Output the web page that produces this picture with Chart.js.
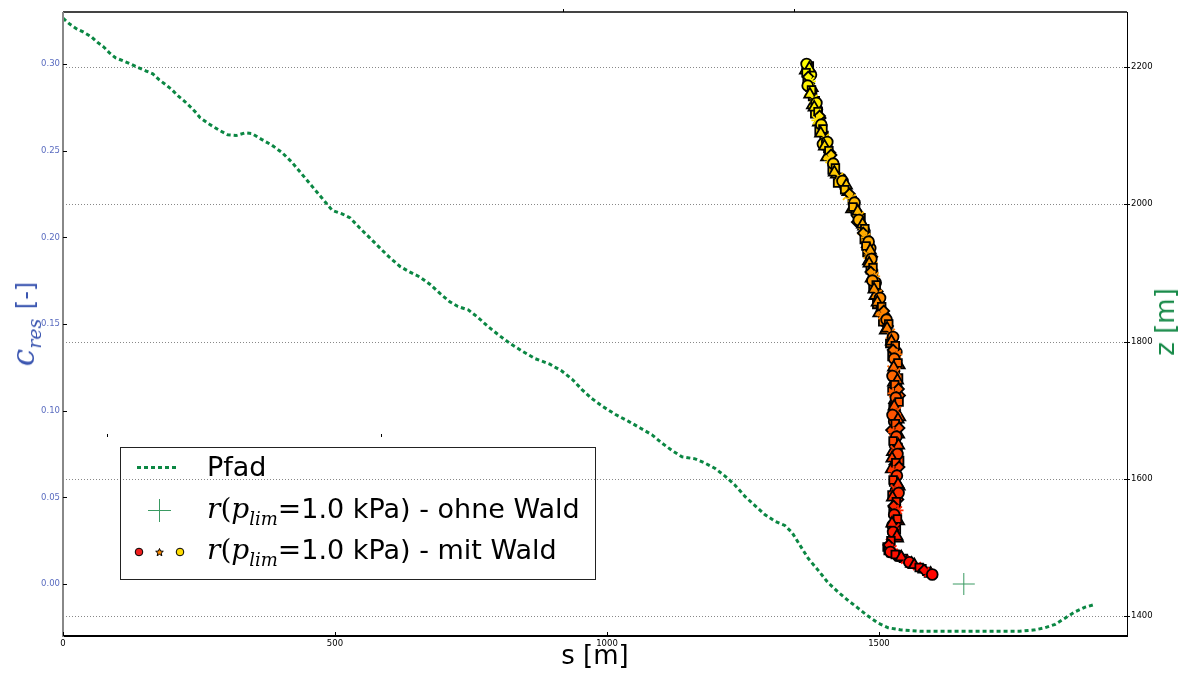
<!DOCTYPE html>
<html>
<head>
<meta charset="utf-8">
<script src="https://cdn.jsdelivr.net/npm/chart.js@4/dist/chart.umd.min.js"></script>
<style>
  html, body { margin: 0; padding: 0; background: #fff; }
  #wrap { position: relative; width: 1183px; height: 675px; overflow: hidden; font-family: "DejaVu Sans", sans-serif; }
  #c { position: absolute; left: 0; top: 0; }
  .lbl { position: absolute; white-space: nowrap; font-family: "DejaVu Sans", sans-serif; }
  .m { font-family: "DejaVu Serif", serif; }
  .mi { font-family: "DejaVu Serif", serif; font-style: italic; }
  #legend { position: absolute; left: 120px; top: 447px; width: 476px; height: 133px;
            border: 1px solid #222; box-sizing: border-box; }
  .row { position: absolute; left: 86px; font-size: 27px; color: #000; line-height: 30px; white-space: nowrap;
         font-family: "DejaVu Sans", sans-serif; }
  .row .mi, .row .m { font-size: 28px; }
  .row .sb { font-size: 18px; position: relative; top: 7px; }
  #xtitle { left: 0; width: 1190px; text-align: center; top: 640px; font-size: 26px; color: #000; }
  #ztitle { left: 1165px; top: 322px; font-size: 26px; color: #178a48;
            transform: translate(-50%, -50%) rotate(-90deg); }
  #ctitle { left: 23px; top: 324px; font-size: 24px; color: #3a55b0;
            transform: translate(-50%, -50%) rotate(-90deg); }
  #ctitle .mi { font-size: 31px; }
  #ctitle .sb { font-size: 19px; position: relative; top: 7px; margin-right: 2px; }
</style>
</head>
<body>
<div id="wrap">
  <canvas id="c" width="1183" height="675"></canvas>
  <div id="legend">
    <div class="row" style="top:4px">Pfad</div>
    <div class="row" style="top:46px"><span class="mi">r</span><span class="m">(</span><span class="mi">p</span><span class="mi sb">lim</span><span class="m">=</span>1.0 kPa) - ohne Wald</div>
    <div class="row" style="top:87px"><span class="mi">r</span><span class="m">(</span><span class="mi">p</span><span class="mi sb">lim</span><span class="m">=</span>1.0 kPa) - mit Wald</div>
  </div>
  <div class="lbl" id="xtitle">s [m]</div>
  <div class="lbl" id="ztitle">z [m]</div>
  <div class="lbl" id="ctitle"><span class="mi">c</span><span class="mi sb">res</span> [-]</div>
</div>
<script>
// Longitudinal profile of the path: distance along path s [m] and elevation z [m]
const pathS = [0, 13, 26, 37, 52, 63, 75, 86, 97, 110, 125, 138, 153, 165, 177, 189, 200, 211, 222, 234, 245, 252,
  270, 289, 303, 318, 335, 347, 366, 384, 403, 421, 439, 458, 476, 495, 513, 528, 546, 564, 583, 601, 620, 638,
  656, 675, 693, 711, 726, 745, 763, 781, 800, 822, 844, 868, 895, 917, 936, 954, 972, 991, 1015, 1039, 1061,
  1083, 1101, 1120, 1138, 1162, 1180, 1199, 1217, 1235, 1254, 1272, 1290, 1309, 1327, 1340, 1355, 1370, 1388,
  1406, 1425, 1443, 1461, 1480, 1498, 1517, 1539, 1575, 1612, 1649, 1686, 1722, 1759, 1787, 1805, 1824, 1842,
  1860, 1879, 1897];
const pathZ = [2271, 2262, 2255, 2251, 2244, 2236, 2229, 2220, 2213, 2209, 2204, 2199, 2194, 2190, 2181, 2174, 2167,
  2158, 2151, 2142, 2133, 2126, 2116, 2107, 2101, 2100, 2104, 2103, 2094, 2086, 2075, 2061, 2044, 2026, 2009,
  1991, 1986, 1980, 1965, 1951, 1936, 1922, 1909, 1901, 1894, 1883, 1870, 1858, 1851, 1846, 1835, 1822, 1810,
  1797, 1786, 1775, 1767, 1757, 1745, 1730, 1717, 1706, 1694, 1684, 1674, 1664, 1652, 1641, 1632, 1629, 1623,
  1615, 1604, 1591, 1574, 1561, 1548, 1538, 1532, 1522, 1503, 1484, 1467, 1449, 1435, 1423, 1412, 1400, 1390,
  1383, 1380, 1378, 1378, 1378, 1378, 1378, 1378, 1380, 1383, 1388, 1397, 1406, 1413, 1417];

// Runout without forest: s [m] at c_res = 0
const runoutNoForestS = [1656];
const runoutNoForestC = [0.0];

// Runout with forest, first set: friction coefficient c_res [-] and runout distance s [m]
const forestC = [0.3000, 0.2975, 0.2950, 0.2925, 0.2900, 0.2875, 0.2850, 0.2825, 0.2800, 0.2775, 0.2750, 0.2725,
  0.2700, 0.2675, 0.2650, 0.2625, 0.2600, 0.2575, 0.2550, 0.2525, 0.2500, 0.2475, 0.2450, 0.2425, 0.2400,
  0.2375, 0.2350, 0.2325, 0.2300, 0.2275, 0.2250, 0.2225, 0.2200, 0.2175, 0.2150, 0.2125, 0.2100, 0.2075,
  0.2050, 0.2025, 0.2000, 0.1975, 0.1950, 0.1925, 0.1900, 0.1875, 0.1850, 0.1825, 0.1800, 0.1775, 0.1750,
  0.1725, 0.1700, 0.1675, 0.1650, 0.1625, 0.1600, 0.1575, 0.1550, 0.1525, 0.1500, 0.1475, 0.1450, 0.1425,
  0.1400, 0.1375, 0.1350, 0.1325, 0.1300, 0.1275, 0.1250, 0.1225, 0.1200, 0.1175, 0.1150, 0.1125, 0.1100,
  0.1075, 0.1050, 0.1025, 0.1000, 0.0975, 0.0950, 0.0925, 0.0900, 0.0875, 0.0850, 0.0825, 0.0800, 0.0775,
  0.0750, 0.0725, 0.0700, 0.0675, 0.0650, 0.0625, 0.0600, 0.0575, 0.0550, 0.0525, 0.0500, 0.0475, 0.0450,
  0.0425, 0.0400, 0.0375, 0.0350, 0.0325, 0.0300, 0.0275, 0.0250, 0.0225, 0.0200, 0.0185, 0.0170, 0.0155,
  0.0140, 0.0125, 0.0110, 0.0095, 0.0080, 0.0065, 0.0055];
const forestS = [1367, 1372, 1366, 1370, 1374, 1369, 1376, 1373, 1380, 1385, 1381, 1388,
  1391, 1386, 1394, 1397, 1393, 1401, 1405, 1400, 1408, 1412, 1409, 1416, 1420,
  1418, 1427, 1433, 1440, 1437, 1446, 1450, 1455, 1452, 1461, 1465, 1463, 1470,
  1474, 1471, 1477, 1481, 1476, 1484, 1479, 1486, 1482, 1489, 1485, 1492, 1488,
  1495, 1491, 1498, 1502, 1497, 1505, 1509, 1506, 1514, 1518, 1515, 1522, 1526,
  1523, 1530, 1526, 1533, 1528, 1535, 1527, 1532, 1525, 1534, 1529, 1536, 1526,
  1531, 1537, 1528, 1533, 1525, 1535, 1530, 1537, 1527, 1532, 1526, 1536, 1529,
  1534, 1524, 1531, 1537, 1527, 1533, 1526, 1535, 1529, 1536, 1525, 1532, 1527,
  1535, 1528, 1534, 1524, 1530, 1526, 1533, 1522, 1518, 1525, 1521, 1530, 1541,
  1548, 1556, 1565, 1574, 1583, 1591, 1598];

// Runout with forest, second set
const forestC2 = [0.2988, 0.2963, 0.2938, 0.2913, 0.2888, 0.2863, 0.2838, 0.2813,
  0.2788, 0.2763, 0.2738, 0.2713, 0.2688, 0.2663, 0.2638, 0.2613,
  0.2588, 0.2563, 0.2538, 0.2513, 0.2488, 0.2463, 0.2438, 0.2413,
  0.2388, 0.2363, 0.2338, 0.2313, 0.2288, 0.2263, 0.2238, 0.2213,
  0.2188, 0.2163, 0.2138, 0.2113, 0.2088, 0.2063, 0.2038, 0.2013,
  0.1988, 0.1963, 0.1938, 0.1913, 0.1888, 0.1863, 0.1838, 0.1813,
  0.1788, 0.1763, 0.1738, 0.1713, 0.1688, 0.1663, 0.1638, 0.1613,
  0.1588, 0.1563, 0.1538, 0.1513, 0.1488, 0.1463, 0.1438, 0.1413,
  0.1388, 0.1363, 0.1338, 0.1313, 0.1288, 0.1263, 0.1238, 0.1213,
  0.1188, 0.1163, 0.1138, 0.1113, 0.1088, 0.1063, 0.1038, 0.1013,
  0.0988, 0.0963, 0.0938, 0.0913, 0.0888, 0.0863, 0.0838, 0.0813,
  0.0788, 0.0763, 0.0738, 0.0713, 0.0688, 0.0663, 0.0638, 0.0613,
  0.0588, 0.0563, 0.0538, 0.0513, 0.0488, 0.0463, 0.0438, 0.0413,
  0.0388, 0.0363, 0.0338, 0.0313, 0.0288, 0.0263, 0.0238, 0.0213,
  0.0193, 0.0178, 0.0163, 0.0148, 0.0133, 0.0118, 0.0103, 0.0088, 0.0073, 0.0060];
const forestS2 = [1372, 1365, 1375, 1368, 1371, 1377, 1370, 1378,
  1383, 1378, 1386, 1382, 1392, 1389, 1396, 1390,
  1399, 1403, 1397, 1406, 1410, 1404, 1413, 1418,
  1414, 1422, 1430, 1424, 1438, 1443, 1441, 1451,
  1457, 1450, 1459, 1467, 1460, 1472, 1468, 1476,
  1473, 1479, 1484, 1478, 1487, 1481, 1490, 1484,
  1490, 1486, 1494, 1489, 1497, 1493, 1501, 1496,
  1503, 1500, 1511, 1507, 1516, 1512, 1520, 1525,
  1520, 1528, 1532, 1524, 1531, 1537, 1523, 1530,
  1536, 1527, 1532, 1524, 1538, 1529, 1533, 1526,
  1531, 1538, 1528, 1534, 1523, 1536, 1530, 1527,
  1535, 1525, 1532, 1538, 1529, 1523, 1534, 1530,
  1527, 1537, 1531, 1524, 1535, 1529, 1533, 1526,
  1531, 1536, 1525, 1532, 1527, 1534, 1520, 1515,
  1517, 1526, 1535, 1545, 1552, 1560, 1570, 1579, 1588, 1595];

// Tick values
const xTicks = [0, 500, 1000, 1500];
const cTicks = [0.00, 0.05, 0.10, 0.15, 0.20, 0.25, 0.30];
const zTicks = [1400, 1600, 1800, 2000, 2200];

const markerStyles = ['circle', 'triangle', 'rect', 'rectRot', 'star', 'circle', 'rect', 'triangle', 'crossRot'];
const markerStyles2 = ['rect', 'triangle', 'circle', 'rect', 'rectRot', 'triangle', 'crossRot', 'rect'];
const C_MAX = 0.30;
function autumn(c) {
  const t = Math.max(0, Math.min(1, c / C_MAX));
  return 'rgb(255,' + Math.round(255 * t) + ',0)';
}
const PATH_GREEN = '#0b8743';

function fixTicks(values) {
  return function (scale) { scale.ticks = values.map(v => ({ value: v })); };
}

function forestDataset(label, cs, ss, styles) {
  const open = st => st === 'star' || st === 'crossRot';
  return {
    type: 'scatter',
    label: label,
    data: ss.map((s, i) => ({ x: s, y: cs[i] })),
    yAxisID: 'yL',
    pointStyle: ctx => styles[ctx.dataIndex % styles.length],
    pointRadius: ctx => {
      const st = styles[ctx.dataIndex % styles.length];
      return st === 'triangle' ? 6.5 : open(st) ? 5.5 : 5.4;
    },
    backgroundColor: ctx => autumn(cs[ctx.dataIndex]),
    borderColor: ctx => open(styles[ctx.dataIndex % styles.length]) ? autumn(cs[ctx.dataIndex]) : '#000',
    borderWidth: 1.8,
    order: 1
  };
}

// Frame, inside tick marks, dotted grid and legend symbols
const decorations = {
  id: 'decorations',
  beforeDatasetsDraw(chart) {
    const { ctx, chartArea: a, scales } = chart;
    ctx.save();
    ctx.strokeStyle = '#888';
    ctx.lineWidth = 1;
    ctx.setLineDash([1, 2]);
    zTicks.forEach(v => {
      const y = Math.round(scales.yR.getPixelForValue(v)) + 0.5;
      ctx.beginPath(); ctx.moveTo(a.left, y); ctx.lineTo(a.right, y); ctx.stroke();
    });
    ctx.restore();
  },
  afterDraw(chart) {
    const { ctx, chartArea: a, scales } = chart;
    ctx.save();
    // spines
    ctx.lineWidth = 2; ctx.strokeStyle = '#444';
    ctx.beginPath(); ctx.moveTo(a.left, a.top); ctx.lineTo(a.right, a.top); ctx.stroke();
    ctx.lineWidth = 1; ctx.strokeStyle = '#000';
    ctx.beginPath(); ctx.moveTo(a.right + 0.5, a.top); ctx.lineTo(a.right + 0.5, a.bottom); ctx.stroke();
    ctx.lineWidth = 2; ctx.strokeStyle = '#000';
    ctx.beginPath(); ctx.moveTo(a.left, a.bottom); ctx.lineTo(a.right + 1, a.bottom); ctx.stroke();
    ctx.strokeStyle = '#888';
    ctx.beginPath(); ctx.moveTo(a.left, a.top); ctx.lineTo(a.left, a.bottom + 1); ctx.stroke();
    // tick marks
    ctx.lineWidth = 1; ctx.strokeStyle = '#000';
    cTicks.forEach(v => {
      const y = Math.round(scales.yL.getPixelForValue(v)) + 0.5;
      ctx.beginPath(); ctx.moveTo(a.left, y); ctx.lineTo(a.left + 4, y); ctx.stroke();
    });
    zTicks.forEach(v => {
      const y = Math.round(scales.yR.getPixelForValue(v)) + 0.5;
      ctx.beginPath(); ctx.moveTo(a.right - 3, y); ctx.lineTo(a.right + 3, y); ctx.stroke();
    });
    xTicks.forEach(v => {
      const x = Math.round(scales.x.getPixelForValue(v)) + 0.5;
      ctx.beginPath(); ctx.moveTo(x, a.bottom); ctx.lineTo(x, a.bottom - 4); ctx.stroke();
    });
    [[563, 9], [794, 9], [107, 434], [381, 434]].forEach(([x, y]) => {
      ctx.beginPath(); ctx.moveTo(x + 0.5, y); ctx.lineTo(x + 0.5, y + 3); ctx.stroke();
    });
    // legend symbols
    ctx.lineWidth = 3; ctx.strokeStyle = PATH_GREEN; ctx.setLineDash([4, 3]);
    ctx.beginPath(); ctx.moveTo(137, 467.5); ctx.lineTo(177, 467.5); ctx.stroke();
    ctx.setLineDash([]);
    ctx.lineWidth = 1; ctx.strokeStyle = '#3a9a62';
    ctx.beginPath(); ctx.moveTo(148, 510.5); ctx.lineTo(171, 510.5);
    ctx.moveTo(159.5, 499); ctx.lineTo(159.5, 522); ctx.stroke();
    ctx.strokeStyle = '#000'; ctx.lineWidth = 1;
    ctx.fillStyle = 'rgb(240,30,30)';
    ctx.beginPath(); ctx.arc(139, 552, 3.8, 0, Math.PI * 2); ctx.fill(); ctx.stroke();
    ctx.fillStyle = 'rgb(255,220,0)';
    ctx.beginPath(); ctx.arc(180, 552, 3.8, 0, Math.PI * 2); ctx.fill(); ctx.stroke();
    ctx.fillStyle = 'rgb(255,140,0)';
    ctx.beginPath();
    for (let i = 0; i < 10; i++) {
      const r = i % 2 === 0 ? 4 : 1.8;
      const ang = -Math.PI / 2 + i * Math.PI / 5;
      const px = 159.5 + r * Math.cos(ang), py = 552.5 + r * Math.sin(ang);
      if (i === 0) ctx.moveTo(px, py); else ctx.lineTo(px, py);
    }
    ctx.closePath(); ctx.fill(); ctx.stroke();
    ctx.restore();
  }
};

const tickFont = { family: 'DejaVu Sans', size: 8.5 };

new Chart(document.getElementById('c'), {
  data: {
    datasets: [
      {
        type: 'line',
        label: 'Pfad',
        data: pathS.map((s, i) => ({ x: s, y: pathZ[i] })),
        yAxisID: 'yR',
        borderColor: PATH_GREEN,
        borderWidth: 3,
        borderDash: [4, 3],
        borderCapStyle: 'butt',
        pointRadius: 0,
        tension: 0,
        fill: false,
        order: 3
      },
      {
        type: 'scatter',
        label: 'ohne Wald',
        data: runoutNoForestS.map((s, i) => ({ x: s, y: runoutNoForestC[i] })),
        yAxisID: 'yL',
        pointStyle: 'cross',
        pointRadius: 11,
        borderColor: '#3a9a62',
        borderWidth: 1,
        order: 2
      },
      forestDataset('mit Wald', forestC, forestS, markerStyles),
      forestDataset('mit Wald (2)', forestC2, forestS2, markerStyles2)
    ]
  },
  options: {
    responsive: false,
    animation: false,
    events: [],
    layout: { padding: { top: 9, left: 0, right: 0, bottom: 0 } },
    plugins: { legend: { display: false }, tooltip: { enabled: false } },
    scales: {
      x: {
        type: 'linear', position: 'bottom', min: 0, max: 1956,
        afterBuildTicks: fixTicks(xTicks),
        afterFit: s => { s.height = 39; },
        grid: { display: false, drawTicks: false }, border: { display: false },
        ticks: { font: tickFont, color: '#000', padding: 3, maxRotation: 0, callback: v => String(v) }
      },
      yL: {
        type: 'linear', position: 'left', min: -0.03, max: 0.33,
        afterBuildTicks: fixTicks(cTicks),
        afterFit: s => { s.width = 63; },
        grid: { display: false, drawTicks: false }, border: { display: false },
        ticks: { font: tickFont, color: '#5a6cc0', padding: 3, callback: v => Number(v).toFixed(2) }
      },
      yR: {
        type: 'linear', position: 'right', min: 1371, max: 2280,
        afterBuildTicks: fixTicks(zTicks),
        afterFit: s => { s.width = 56; },
        grid: { display: false, drawTicks: false }, border: { display: false },
        ticks: { font: tickFont, color: '#000', padding: 4, callback: v => String(v) }
      }
    }
  },
  plugins: [decorations]
});
</script>
</body>
</html>
